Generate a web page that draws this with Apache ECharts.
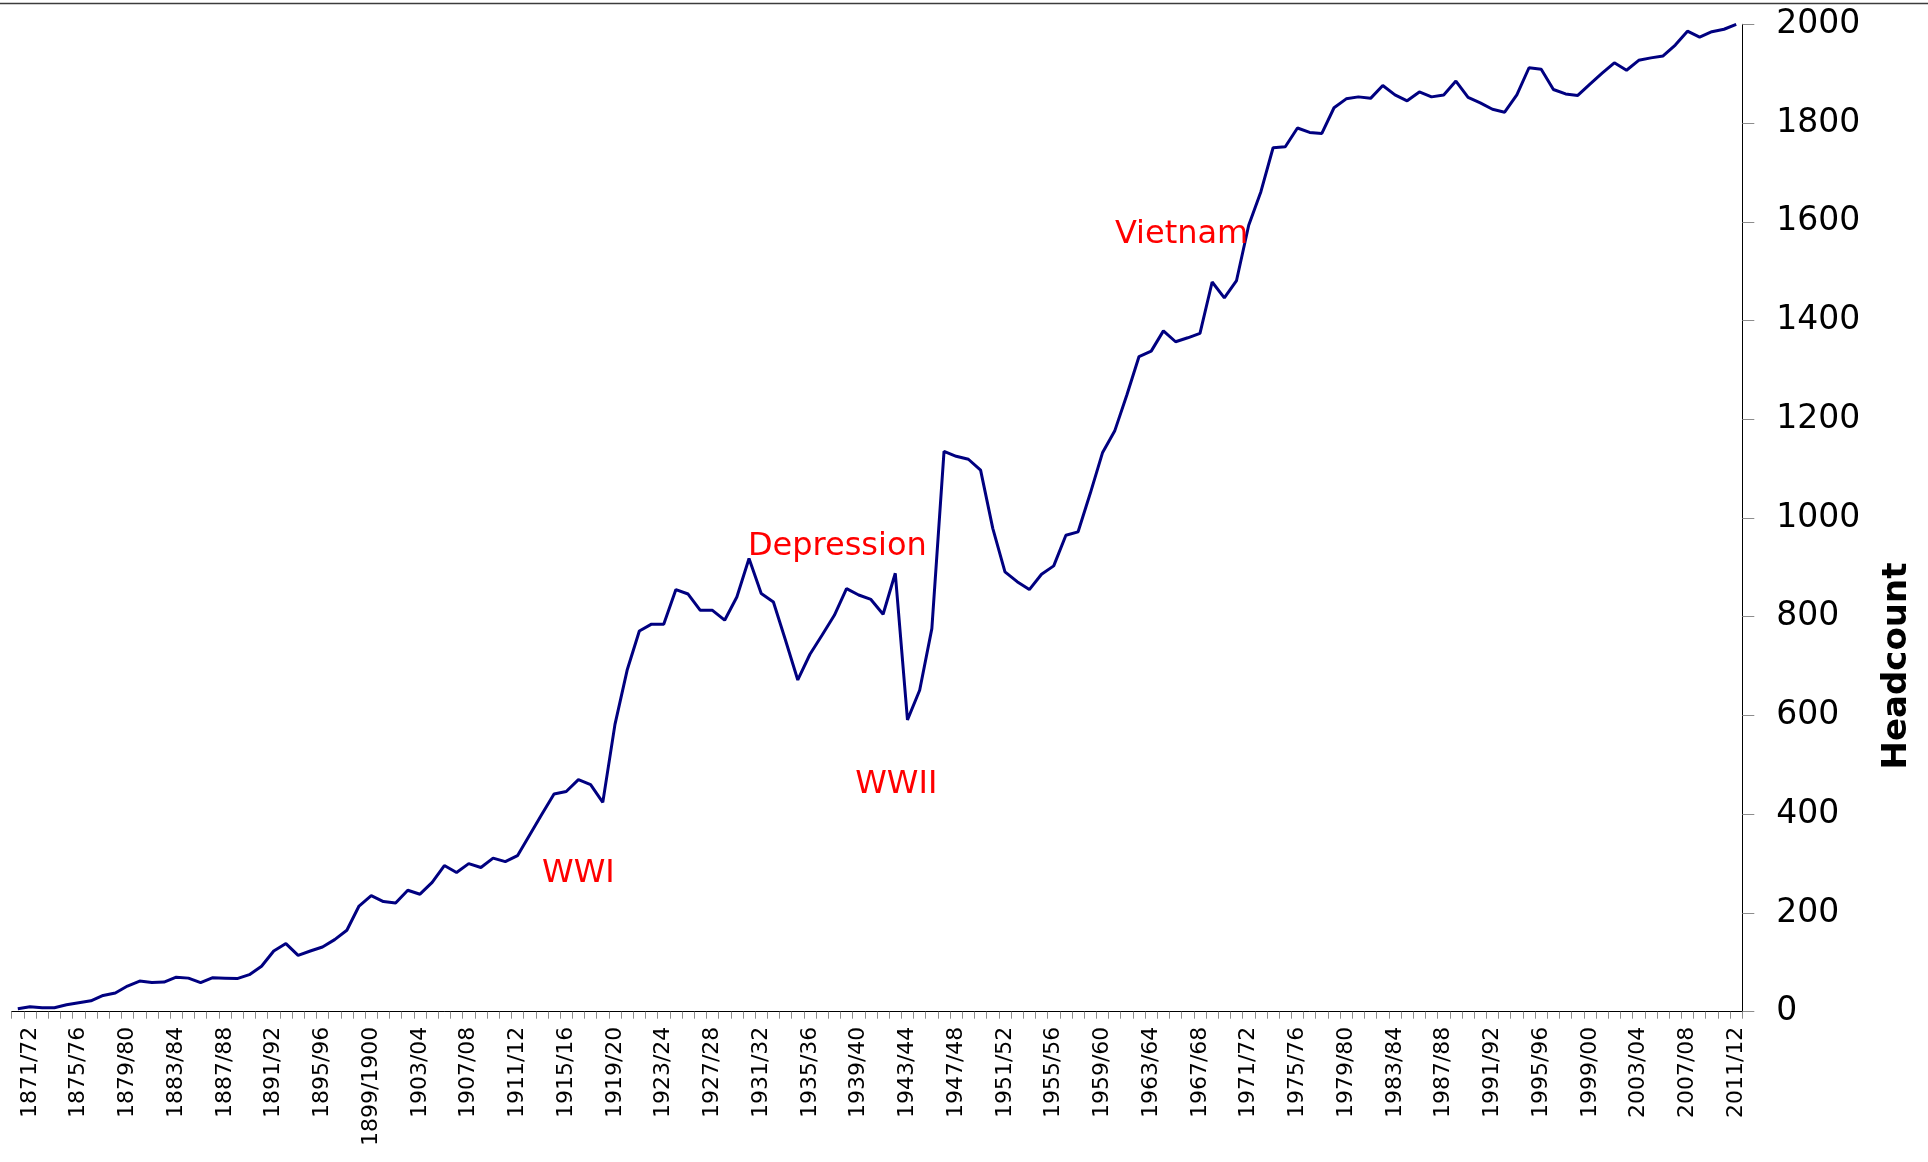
<!DOCTYPE html>
<html>
<head>
<meta charset="utf-8">
<title>Headcount 1870/71 – 2011/12</title>
<script src="https://cdn.jsdelivr.net/npm/echarts@6/dist/echarts.min.js"></script>
<style>
  html, body { margin: 0; padding: 0; background: #ffffff; }
  #chart { width: 1928px; height: 1162px; }
</style>
</head>
<body>
<div id="chart"></div>
<script>
// Financial years, 1870/71 to 2011/12 (one category per year)
const firstYear = 1870;
const lastYear = 2011;
const seasons = [];
for (let y = firstYear; y <= lastYear; y++) {
  const next = y + 1;
  const tail = next === 1900 ? '1900' : String(next % 100).padStart(2, '0');
  seasons.push(y + '/' + tail);
}

// Headcount per year
const headcount = [
  6, 10, 8, 8, 14, 18, 22, 33, 38, 52,
  62, 59, 60, 70, 68, 59, 69, 68, 67, 75,
  92, 123, 138, 114, 123, 131, 146, 165, 214, 235,
  223, 220, 246, 238, 262, 296, 282, 300, 292, 311,
  304, 316, 358, 400, 441, 446, 470, 460, 424, 582,
  692, 771, 785, 785, 855, 846, 813, 813, 793, 840,
  918, 847, 830, 752, 672, 724, 763, 803, 857, 844,
  835, 805, 888, 591, 651, 776, 1135, 1125, 1119, 1097,
  979, 891, 871, 855, 886, 903, 965, 972, 1050, 1132,
  1176, 1249, 1327, 1338, 1379, 1357, 1365, 1374, 1478, 1446,
  1481, 1593, 1661, 1750, 1752, 1790, 1781, 1779, 1831, 1849,
  1853, 1850, 1876, 1857, 1845, 1863, 1853, 1857, 1885, 1852,
  1841, 1828, 1822, 1857, 1912, 1909, 1868, 1859, 1856, 1879,
  1901, 1922, 1907, 1927, 1932, 1936, 1958, 1986, 1974, 1985,
  1990, 2000
];

// Value axis ticks
const yTicks = [0, 200, 400, 600, 800, 1000, 1200, 1400, 1600, 1800, 2000];

// Event annotations placed in data space
const eventNames = ['WWI', 'Depression', 'WWII', 'Vietnam'];
const eventSeasons = ['1916/17', '1937/38', '1942/43', '1965/66'];
const eventLevels = [279, 942, 460, 1573];

const FONT = '"DejaVu Sans", Verdana, sans-serif';

const chart = echarts.init(document.getElementById('chart'), null, { renderer: 'canvas' });

// small horizontal nudges so each label sits centred over its period
const eventOffsets = [0, 3, 1, 6];

chart.setOption({
  animation: false,
  backgroundColor: '#ffffff',
  grid: { left: 11.7, right: 185.7, top: 24.3, bottom: 150.3, containLabel: false },
  xAxis: {
    type: 'category',
    data: seasons,
    boundaryGap: true,
    axisLine: { lineStyle: { color: '#000000', width: 1 } },
    axisTick: { show: true, interval: 0, length: 7, lineStyle: { color: '#8c8c8c', width: 1 } },
    axisLabel: {
      interval: function (idx) { return (idx - 1) % 4 === 0; },
      rotate: 90,
      margin: 15,
      color: '#000000',
      fontFamily: FONT,
      fontSize: 22
    },
    splitLine: { show: false }
  },
  yAxis: {
    type: 'value',
    position: 'right',
    min: yTicks[0],
    max: yTicks[yTicks.length - 1],
    interval: yTicks[1] - yTicks[0],
    axisLine: { show: true, lineStyle: { color: '#000000', width: 1 } },
    axisTick: { show: true, length: 12, lineStyle: { color: '#8c8c8c', width: 1 } },
    axisLabel: {
      margin: 34,
      color: '#000000',
      fontFamily: FONT,
      fontSize: 33,
      formatter: function (v) { return String(v); }
    },
    splitLine: { show: false }
  },
  graphic: [
    {
      type: 'line',
      shape: { x1: 0, y1: 3.5, x2: 1928, y2: 3.5 },
      style: { stroke: '#3c3c3c', lineWidth: 1.5 },
      silent: true
    },
    {
      type: 'text',
      x: 1897,
      y: 666,
      rotation: Math.PI / 2,
      silent: true,
      style: {
        text: 'Headcount',
        fill: '#000000',
        font: 'bold 34px ' + FONT,
        textAlign: 'center',
        textVerticalAlign: 'middle'
      }
    }
  ],
  series: [
    {
      type: 'line',
      data: headcount,
      showSymbol: false,
      symbol: 'none',
      lineStyle: { color: '#000080', width: 3 },
      itemStyle: { color: '#000080' },
      markPoint: {
        silent: true,
        symbol: 'circle',
        symbolSize: 1,
        itemStyle: { color: 'rgba(0,0,0,0)' },
        label: {
          show: true,
          position: 'inside',
          color: '#ff0000',
          fontFamily: FONT,
          fontSize: 32
        },
        data: eventNames.map(function (name, i) {
          return {
            name: name,
            coord: [eventSeasons[i], eventLevels[i]],
            label: { formatter: name, offset: [eventOffsets[i], 0] }
          };
        })
      }
    }
  ]
});
</script>
</body>
</html>
